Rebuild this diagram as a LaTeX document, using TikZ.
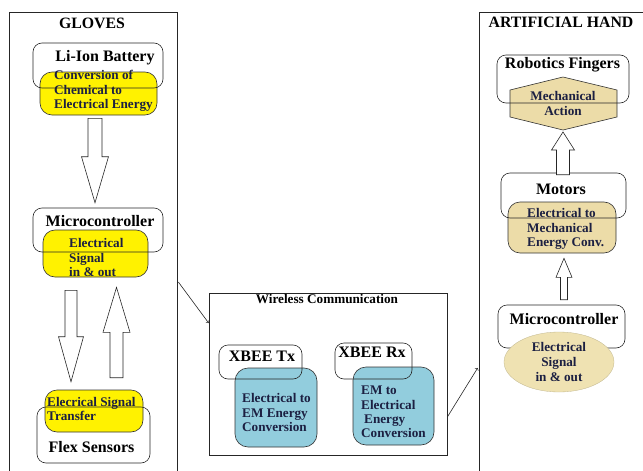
\documentclass[tikz,border=0pt]{standalone}
\usepackage{fontspec}
\setmainfont{Liberation Serif}
\usetikzlibrary{positioning,calc,shapes.geometric}

\definecolor{sigyellow}{RGB}{255,242,0}
\definecolor{xbeeblue}{RGB}{146,205,221}
\definecolor{mechtan}{RGB}{236,220,168}
\definecolor{lighttan}{RGB}{239,226,178}
\definecolor{inktxt}{RGB}{28,32,66}

% vertical block arrow: from, to, shaft half width, head half width, head length
\newcommand{\blockarrow}[5]{%
  \draw[bigarrow] let \p1=(#1), \p2=(#2), \p3=($(\x1,\y2)!#5!(\p1)$) in
    (\x1-#3,\y1) -- (\x1-#3,\y3) -- (\x1-#4,\y3) -- (\x1,\y2) -- (\x1+#4,\y3)
    -- (\x1+#3,\y3) -- (\x1+#3,\y1) -- cycle;}

\begin{document}
\begin{tikzpicture}[x=1pt,y=-1pt,
    panel/.style={draw=black!85, line width=0.7pt, inner sep=0pt},
    whitebox/.style={draw=black!85, line width=0.6pt, rounded corners=9pt, inner sep=0pt},
    yellowbox/.style={draw=black!80, line width=0.6pt, fill=sigyellow, rounded corners=12pt, inner sep=0pt},
    bluebox/.style={draw=black!80, line width=0.6pt, fill=xbeeblue, rounded corners=13pt, inner sep=0pt},
    tanbox/.style={draw=black!80, line width=0.6pt, fill=mechtan, rounded corners=12pt, inner sep=0pt},
    boxtitle/.style={font=\fontsize{16}{18}\selectfont\bfseries, inner sep=0pt},
    paneltitle/.style={font=\fontsize{15.8}{17}\selectfont\bfseries, inner sep=0pt},
    innertext/.style={font=\fontsize{13.2}{14.2}\selectfont\bfseries, text=inktxt, align=left, anchor=west, inner sep=0pt},
    bigarrow/.style={draw=black!85, line width=0.6pt, fill=white},
    thinarrow/.style={->, draw=black!85, line width=0.6pt}]
  \useasboundingbox (0,0) rectangle (643,471);

  % gloves side
  \node[panel, minimum width=168pt, minimum height=470pt] (gloves) at (93,247) {};
  \node[paneltitle] (glovesT) at (92,23) {GLOVES};

  \node[yellowbox, minimum width=117pt, minimum height=43pt] (battE) at (98.5,93.5) {};
  \node[innertext] (battEt) at (54,91) {Conversion of\\Chemical to\\Electrical Energy};
  \node[whitebox, minimum width=130pt, minimum height=45pt] (batt) at (98,65.5) {};
  \node[boxtitle] (battT) at (105,58) {Li-Ion Battery};

  \node[yellowbox, minimum width=105pt, minimum height=47pt] (mcuLE) at (95.5,253.5) {};
  \node[innertext] (mcuLEt) at (69,257.5) {Electrical\\Signal\\in \& out};
  \node[whitebox, minimum width=130pt, minimum height=44pt] (mcuL) at (98,230) {};
  \node[boxtitle] (mcuLT) at (100,221) {Microcontroller};

  \node[yellowbox, minimum width=98pt, minimum height=42pt] (flexE) at (94,411) {};
  \node[innertext] (flexEt) at (47,409) {Elecrical Signal\\Transfer};
  \node[whitebox, minimum width=113pt, minimum height=56pt] (flex) at (93.5,435) {};
  \node[boxtitle] (flexT) at (91.5,447) {Flex Sensors};

  \blockarrow{[xshift=-3.5pt,yshift=-3pt]battE.south}{[yshift=5pt]mcuL.north}{7pt}{13.5pt}{46pt}
  \blockarrow{[xshift=-24.5pt,yshift=-13pt]mcuLE.south}{[yshift=8pt]flexE.north}{6pt}{12.5pt}{45pt}
  \blockarrow{[xshift=22.5pt,yshift=12pt]flexE.north}{[yshift=-10pt]mcuLE.south}{6.5pt}{13.5pt}{45pt}

  % wireless link
  \node[panel, minimum width=238pt, minimum height=162pt] (wless) at (328,374) {};
  \node[font=\fontsize{13.2}{15}\selectfont\bfseries, inner sep=0pt] (wlessT) at (327,299) {Wireless Communication};

  \node[bluebox, minimum width=82pt, minimum height=79pt] (txE) at (276,407.5) {};
  \node[innertext] (txEt) at (242,412.5) {Electrical to\\EM Energy\\Conversion};
  \node[whitebox, minimum width=83pt, minimum height=34pt] (tx) at (260.5,362) {};
  \node[boxtitle] (txT) at (262,356) {XBEE Tx};

  \node[bluebox, minimum width=81pt, minimum height=78pt] (rxE) at (393.5,406) {};
  \node[innertext] (rxEt) at (361,412) {EM to\\Electrical\\\hspace{3pt}Energy\\Conversion};
  \node[whitebox, minimum width=77pt, minimum height=36pt] (rx) at (373.5,361) {};
  \node[boxtitle] (rxT) at (372,352) {XBEE Rx};

  % artificial hand side
  \node[panel, minimum width=181pt, minimum height=470pt] (hand) at (569.5,247) {};
  \node[paneltitle] (handT) at (561,22) {ARTIFICIAL HAND};

  \filldraw[draw=black!80, line width=0.6pt, fill=mechtan] (510,90) -- (563,77) -- (617,90) -- (617,117)
    -- (563,130) coordinate (hexbot) -- (510,117) -- cycle;
  \node[innertext, anchor=center, align=center] (mech) at (563,103.5) {Mechanical\\Action};
  \node[whitebox, minimum width=132pt, minimum height=48pt] (fing) at (563,79) {};
  \node[boxtitle] (fingT) at (562.5,65) {Robotics Fingers};

  \node[tanbox, minimum width=108pt, minimum height=51pt] (motE) at (562,227.5) {};
  \node[innertext] (motEt) at (527,229) {Electrical to\\Mechanical\\Energy Conv.};
  \node[whitebox, minimum width=125pt, minimum height=45pt] (motor) at (563.5,195.5) {};
  \node[boxtitle] (motorT) at (561,189) {Motors};

  \node[whitebox, minimum width=127pt, minimum height=43pt] (mcuR) at (561.5,326.5) {};
  \node[boxtitle] (mcuRT) at (564,319) {Microcontroller};
  \node[ellipse, fill=lighttan, draw=lighttan!80!black, line width=0.3pt, minimum width=110pt, minimum height=60pt,
        inner sep=0pt, font=\fontsize{13.2}{15}\selectfont\bfseries, text=inktxt, align=center] (mcuRE) at (559,362)
        {Electrical\\Signal\\in \& out};

  \blockarrow{[xshift=-0.5pt,yshift=-2pt]motor.north}{[yshift=-2pt]hexbot}{6.5pt}{11.5pt}{18pt}
  \blockarrow{[xshift=2.5pt,yshift=5pt]mcuR.north}{[yshift=-5pt]motE.south}{3.5pt}{8pt}{19pt}

  % thin links
  \draw[thinarrow] ([xshift=1pt,yshift=-35pt]gloves.east) -- ([yshift=51pt]wless.west);
  \draw[thinarrow] ([yshift=-43pt]wless.east) -- ([xshift=-1pt,yshift=-121pt]hand.west);
\end{tikzpicture}
\end{document}
